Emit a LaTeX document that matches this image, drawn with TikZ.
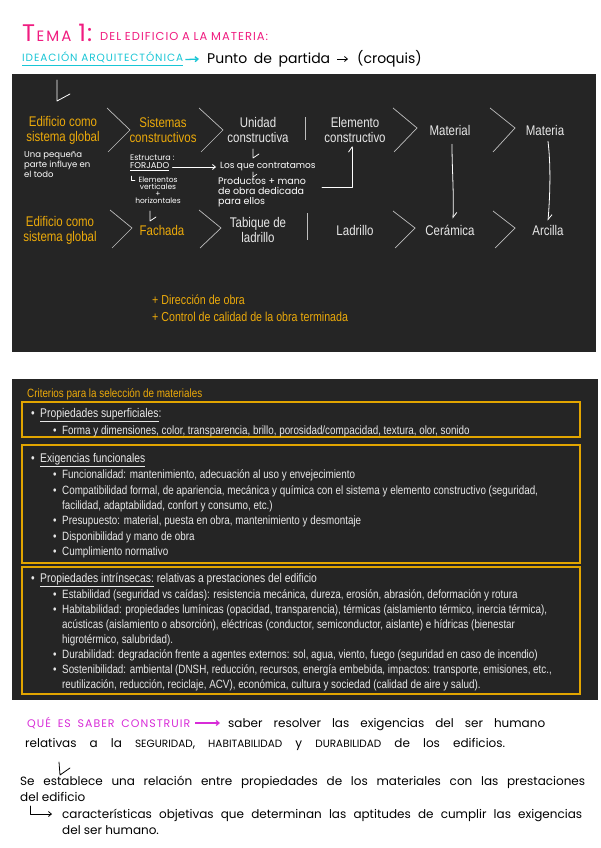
\documentclass[tikz,border=0pt]{standalone}
\usepackage{fontspec}
\setmainfont{Liberation Sans}
\newfontfamily\narrow[FakeStretch=0.82]{Liberation Sans}
\newfontfamily\hand{Poppins}
\newfontfamily\handsp[LetterSpace=9]{Poppins}
\usetikzlibrary{arrows.meta}
\definecolor{panel}{RGB}{37,37,37}
\definecolor{gold}{RGB}{236,170,10}
\definecolor{goldline}{RGB}{226,165,0}
\definecolor{ltext}{RGB}{232,232,232}
\definecolor{chev}{RGB}{190,190,190}
\definecolor{pinkt}{RGB}{240,28,128}
\definecolor{cyant}{RGB}{25,198,214}
\definecolor{magt}{RGB}{216,44,216}
\tikzset{
 lbl/.style={font=\narrow\fontsize{14}{15}\selectfont, align=center, inner sep=0},
 ylbl/.style={lbl, text=gold},
 wlbl/.style={lbl, text=ltext},
 chevron/.style={draw=chev, line width=0.7pt},
 hw/.style={font=\hand\fontsize{8}{10}\selectfont, text=white, inner sep=0, anchor=west},
 hwline/.style={draw=white, line width=0.8pt, line cap=round, line join=round},
 blkline/.style={draw=black, line width=0.8pt, line cap=round, line join=round},
 crit/.style={font=\narrow\fontsize{12}{14}\selectfont, text=ltext, inner sep=0, anchor=base west},
 crith/.style={crit, font=\narrow\fontsize{12.6}{14}\selectfont},
 critbox/.style={draw=goldline, line width=1.6pt},
 note/.style={font=\hand\fontsize{12}{14}\selectfont, inner sep=0, anchor=base west},
 barb/.style={-{Straight Barb[length=3pt,width=5pt]}},
 hbarb/.style={-{Straight Barb[harpoon,length=5pt,width=7pt]}},
}
\newcommand{\capsm}[1]{{\fontsize{10.5}{10.5}\selectfont #1}}
\begin{document}
\begin{tikzpicture}[x=1pt,y=-1pt]
\fill[white] (0,0) rectangle (600,848);
\useasboundingbox (0,0) rectangle (600,848);

% ---------- header ----------
\node[anchor=base west, inner sep=0, text=pinkt, font=\hand\fontsize{24}{24}\selectfont] (tema) at (22,42)
  {T\kern1.5pt{\fontsize{15}{15}\selectfont E\kern2pt M\kern2pt A}\kern7pt 1\kern1pt:};
\node[anchor=base west, inner sep=0, text=pinkt, font=\handsp\fontsize{11.5}{12}\selectfont] (sub) at (100,41)
  {\makebox[168pt][s]{DEL EDIFICIO A LA MATERIA:}};
\node[anchor=base west, inner sep=0, text=cyant, font=\handsp\fontsize{10.5}{11}\selectfont] (idea) at (22,62)
  {\makebox[161pt][s]{IDEACIÓN ARQUITECTÓNICA}};
\draw[cyant, line width=1.6pt] ([yshift=-2pt]idea.south west) -- ([yshift=-2pt]idea.south east);
\node[note, font=\hand\fontsize{14}{14}\selectfont] (punto) at (207,64) {\makebox[123pt][s]{Punto de partida}};
\node[note, font=\hand\fontsize{14}{14}\selectfont] (croq) at (357,64) {(croquis)};
\draw[cyant, line width=1.3pt, barb] ([xshift=2pt,yshift=4pt]idea.south east) -- ([xshift=-8pt,yshift=5pt]punto.base west);
\draw[blkline, barb] ([xshift=7pt,yshift=5pt]punto.base east) -- ([xshift=-9pt,yshift=5pt]croq.base west);

% ---------- top panel ----------
\fill[panel] (12,74) rectangle (596,352);
\draw[hwline] (57,80) -- (57,101) -- (70,94);

\node[ylbl] (r1a) at (63,130) {Edificio como\\sistema global};
\node[ylbl] (r1b) at (163,130) {Sistemas\\constructivos};
\node[wlbl] (r1c) at (258,130) {Unidad\\constructiva};
\node[wlbl] (r1d) at (355,130) {Elemento\\constructivo};
\node[wlbl] (r1e) at (450,130) {Material};
\node[wlbl] (r1f) at (545,130) {Materia};

\node[ylbl] (r2a) at (60,230) {Edificio como\\sistema global};
\node[ylbl] (r2b) at (162,230) {Fachada};
\node[wlbl] (r2c) at (258,230) {Tabique de\\ladrillo};
\node[wlbl] (r2d) at (355,230) {Ladrillo};
\node[wlbl] (r2e) at (450,230) {Cerámica};
\node[wlbl] (r2f) at (548,230) {Arcilla};

% chevrons and separators
\draw[chevron] (107,108) -- (130,130) -- (108,152);
\draw[chevron] (199,108) -- (223,130) -- (201,152);
\draw[chevron] (393,108) -- (417,128) -- (394,152);
\draw[chevron] (490,108) -- (515,128) -- (493,152);
\draw[chevron] (110,210) -- (132,228) -- (112,248);
\draw[chevron] (199,210) -- (221,228) -- (200,248);
\draw[chevron] (393,211) -- (415,228) -- (395,248);
\draw[chevron] (493,211) -- (515,228) -- (495,248);
\draw[chevron] (305,117) -- (305,140);
\draw[chevron] (307,213) -- (307,240);

% handwritten notes
\node[hw, anchor=north west, align=left, font=\hand\fontsize{8.5}{10}\selectfont] (peq) at (24,151) {Una pequeña\\parte influye en\\el todo};
\node[hw, font=\hand\fontsize{8}{8}\selectfont] (estr) at (130,158) {Estructura :};
\node[hw, font=\hand\fontsize{8.5}{8}\selectfont] (forj) at (130,167) {\underline{FORJADO}};
\node[hw, align=center, anchor=center, font=\hand\fontsize{7.5}{7}\selectfont] (elv) at (158,190) {Elementos\\verticales\\+\\horizontales};
\draw[hwline, line width=0.5pt] (131,176) -- (131,180) -- (135,180);
\draw[hwline] (150,211) -- (150,221) -- (156,217);

\node[hw, font=\hand\fontsize{9}{10}\selectfont] (contr) at (220,167) {Los que contratamos};
\draw[hwline, barb] ([xshift=3pt]forj.east) -- ([xshift=-4pt]contr.west);
\draw[hwline] (253,149) -- (253,158) -- (259,154);
\draw[hwline, line width=0.6pt] (253,172) -- (253,177) -- (257,174);
\node[hw, anchor=north west, align=left, font=\hand\fontsize{9.5}{10}\selectfont] (prod) at (218,177) {Productos + mano\\de obra dedicada\\para ellos};
\coordinate (lstart) at (322,187);
\coordinate (lturn) at (352,187);
\draw[hwline, hbarb] (lstart) -- (lturn) -- ([yshift=-3pt]lturn |- r1d.south);

\draw[hwline, hbarb] ([xshift=2pt,yshift=-9pt]r1e.south) .. controls +(0,25) and +(1,-25) .. ([xshift=3pt,yshift=6pt]r2e.north);
\draw[hwline, hbarb] ([xshift=3pt,yshift=-6pt]r1f.south) .. controls +(3,25) and +(2,-25) .. ([xshift=0pt,yshift=4pt]r2f.north);

\node[anchor=north west, inner sep=0, align=left, text=gold, font=\narrow\fontsize{13}{17}\selectfont] (plus) at (152,295)
  {+ Dirección de obra\\+ Control de calidad de la obra terminada};

% ---------- criteria panel ----------
\fill[panel] (12,379) rectangle (598,700);
\node[crit, text=gold, font=\narrow\fontsize{12}{13}\selectfont] (crh) at (27,397) {Criterios para la selección de materiales};
\draw[critbox] (22,402) rectangle (580,437);
\draw[critbox] (22,445) rectangle (580,563);
\draw[critbox] (22,567) rectangle (580,694);

\node[crith] (h1) at (31,417) {\makebox[9pt][l]{•}\underline{Propiedades superficiales}:};
\node[crith] (h2) at (31,462) {\makebox[9pt][l]{•}\underline{Exigencias funcionales}};
\node[crith] (h3) at (31,582) {\makebox[9pt][l]{•}\underline{Propiedades intrínsecas:} relativas a prestaciones del edificio};

\foreach \y/\t [count=\i] in {
 434/{Forma y dimensiones, color, transparencia, brillo, porosidad/compacidad, textura, olor, sonido},
 478/{Funcionalidad: mantenimiento, adecuación al uso y envejecimiento},
 494/{Compatibilidad formal, de apariencia, mecánica y química con el sistema y elemento constructivo (seguridad,},
 524/{Presupuesto: material, puesta en obra, mantenimiento y desmontaje},
 540/{Disponibilidad y mano de obra},
 555/{Cumplimiento normativo},
 598/{Estabilidad (seguridad vs caídas): resistencia mecánica, dureza, erosión, abrasión, deformación y rotura},
 613/{Habitabilidad: propiedades lumínicas (opacidad, transparencia), térmicas (aislamiento térmico, inercia térmica),},
 658/{Durabilidad: degradación frente a agentes externos: sol, agua, viento, fuego (seguridad en caso de incendio)},
 673/{Sostenibilidad: ambiental (DNSH, reducción, recursos, energía embebida, impactos: transporte, emisiones, etc.,}
}{
 \node[crit] (b\i) at (53,\y) {\makebox[9pt][l]{•}\t};
}
\foreach \y/\t [count=\i] in {
 509/{facilidad, adaptabilidad, confort y consumo, etc.)},
 628/{acústicas (aislamiento o absorción), eléctricas (conductor, semiconductor, aislante) e hídricas (bienestar},
 643/{higrotérmico, salubridad).},
 688/{reutilización, reducción, reciclaje, ACV), económica, cultura y sociedad (calidad de aire y salud).}
}{
 \node[crit] (c\i) at (62,\y) {\t};
}

% ---------- bottom handwritten notes ----------
\node[note, text=magt, font=\handsp\fontsize{11}{12}\selectfont] (que) at (27,727) {\makebox[163pt][s]{QUÉ ES SABER CONSTRUIR}};
\node[note] (saber) at (228,727) {\makebox[317pt][s]{saber resolver las exigencias del ser humano}};
\draw[magt, line width=1.2pt, barb] ([xshift=5pt,yshift=4pt]que.base east) -- ([xshift=-8pt,yshift=4pt]saber.base west);
\node[note] (rel) at (25,747) {\makebox[480pt][s]{relativas a la \capsm{SEGURIDAD}, \capsm{HABITABILIDAD} y \capsm{DURABILIDAD} de los edificios.}};
\draw[blkline] (59,762) -- (60,775) -- (70,768);
\node[note] (se) at (20,785) {\makebox[565pt][s]{Se establece una relación entre propiedades de los materiales con las prestaciones}};
\node[note] (deled) at (20,801) {del edificio};
\node[note] (carac) at (62,818) {\makebox[520pt][s]{características objetivas que determinan las aptitudes de cumplir las exigencias}};
\node[note] (delser) at (62,834) {del ser humano.};
\draw[blkline, barb] (30,806) -- (30,814) -- ([xshift=-10pt,yshift=4pt]carac.base west);
\end{tikzpicture}
\end{document}
